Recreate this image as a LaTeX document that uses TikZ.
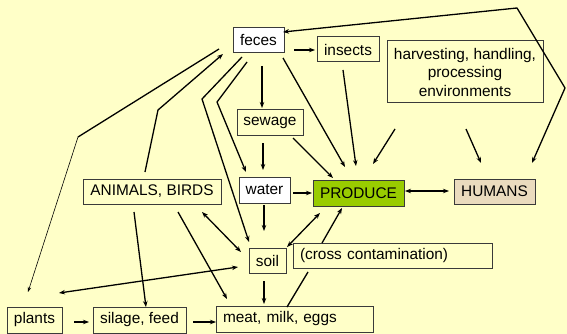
\documentclass[tikz,border=0pt]{standalone}
\usepackage{fontspec}
\setmainfont{Liberation Sans}
\usetikzlibrary{arrows.meta,calc}
\definecolor{bg}{HTML}{FFFFC8}
\definecolor{prodgreen}{HTML}{99CC00}
\definecolor{humtan}{HTML}{EADBBE}
\definecolor{boxline}{HTML}{3A3A3A}
\begin{document}
\begin{tikzpicture}[x=1pt,y=-1pt,
  box/.style={draw=boxline, line width=1pt, rectangle, inner sep=0pt,
    font=\fontsize{15.4}{18.5}\selectfont, align=center},
  lbox/.style={box, inner xsep=7pt, align=left},
  conn/.style={line width=1.3pt, line join=round, arrows={-Stealth[length=6pt,width=4.5pt]}},
  dconn/.style={line width=1.3pt, line join=round, arrows={Stealth[length=6pt,width=4.5pt]-Stealth[length=6pt,width=4.5pt]}},
  plain/.style={line width=1.3pt},
  thinconn/.style={line width=0.6pt, arrows={-Stealth[length=5pt,width=3.5pt]}}
]
\fill[bg] (0,0) rectangle (567,334);
\useasboundingbox (0,0) rectangle (567,334);

% nodes
\node[box, fill=white, minimum width=51pt, minimum height=25pt] (feces) at (258.5,40.5) {feces};
\node[box, minimum width=62pt, minimum height=25pt] (insects) at (348,49.5) {insects};
\node[box, minimum width=156pt, minimum height=62pt] (harv) at (465,72) {harvesting, handling,\\processing\\environments};
\node[box, minimum width=66pt, minimum height=25pt] (sewage) at (270,122.5) {sewage};
\node[box, fill=white, minimum width=51pt, minimum height=26pt] (water) at (264.5,190) {water};
\node[box, fill=prodgreen, minimum width=91pt, minimum height=26pt] (produce) at (358.5,193) {PRODUCE};
\node[box, fill=humtan, minimum width=81pt, minimum height=25pt] (humans) at (494.5,191.5) {HUMANS};
\node[box, minimum width=138pt, minimum height=25pt] (animals) at (152,191.5) {ANIMALS, BIRDS};
\node[box, minimum width=37pt, minimum height=25pt] (soil) at (267.5,260.5) {soil};
\node[lbox, text width=185pt, minimum height=25pt] (cross) at (392.5,255.5) {(cross contamination)};
\node[box, minimum width=55pt, minimum height=26pt] (plants) at (34.5,320) {plants};
\node[box, minimum width=93pt, minimum height=26pt] (silage) at (139.5,320) {silage, feed};
\node[lbox, text width=143pt, minimum height=26pt] (meat) at (294.5,319) {meat, milk, eggs};

% bend points
\coordinate (k1) at (517,8);
\coordinate (k2) at (565,88);
\coordinate (k3) at (78,137);
\coordinate (k4) at (158,110);
\coordinate (k5) at (202,99);
\coordinate (k6) at (217,102);

% connectors
\draw[dconn] ($(feces.center)+(24.5,-8.5)$) -- (k1) -- (k2) -- ($(humans.center)+(37.5,-28.5)$);
\draw[plain] ($(feces.center)+(-39.5,8.5)$) -- (k3);
\draw[thinconn] (k3) -- ($(plants.center)+(-6.5,-28)$);
\draw[conn] ($(animals.center)+(-7,-19.5)$) -- (k4) -- ($(feces.center)+(-35.5,13.5)$);
\draw[conn] ($(feces.center)+(-16.5,16.5)$) -- (k5) -- ($(soil.center)+(-18.5,-18.5)$);
\draw[conn] ($(feces.center)+(-11.5,21.5)$) -- (k6) -- ($(water.center)+(-18.5,-18)$);
\draw[conn] ($(feces.center)+(3.5,25.5)$) -- ($(sewage.center)+(-8,-14.5)$);
\draw[conn] ($(feces.center)+(35.5,9.5)$) -- ($(insects.center)+(-33,0.5)$);
\draw[conn] ($(feces.center)+(24.5,17.5)$) -- ($(produce.center)+(-13.5,-26)$);
\draw[conn] ($(insects.center)+(-5,20.5)$) -- ($(produce.center)+(-2.5,-27)$);
\draw[conn] ($(harv.center)+(-70,57)$) -- ($(produce.center)+(14.5,-29)$);
\draw[conn] ($(harv.center)+(1,57)$) -- ($(humans.center)+(-13.5,-28.5)$);
\draw[conn] ($(sewage.center)+(23,15.5)$) -- ($(produce.center)+(-25.5,-15)$);
\draw[conn] ($(sewage.center)+(-7,20.5)$) -- ($(water.center)+(-1.5,-20)$);
\draw[conn] ($(water.center)+(28.5,3)$) -- ($(produce.center)+(-46.5,0)$);
\draw[conn] ($(water.center)+(-0.5,15)$) -- ($(soil.center)+(-3.5,-29.5)$);
\draw[dconn] ($(produce.center)+(46.5,-2)$) -- ($(humans.center)+(-45.5,-0.5)$);
\draw[dconn] ($(soil.center)+(19.5,-13.5)$) -- ($(produce.center)+(-38.5,20)$);
\draw[conn] ($(cross.center)+(-70.5,-12.5)$) -- ($(produce.center)+(-16.5,15)$);
\draw[plain] ($(cross.center)+(-84.5,16.5)$) -- ($(meat.center)+(-7.5,-12)$);
\draw[dconn] ($(animals.center)+(50,20.5)$) -- ($(soil.center)+(-26.5,-8.5)$);
\draw[conn] ($(animals.center)+(26,20.5)$) -- ($(meat.center)+(-67.5,-20)$);
\draw[conn] ($(animals.center)+(-18,20.5)$) -- ($(silage.center)+(6.5,-13)$);
\draw[dconn] ($(soil.center)+(-29.5,6.5)$) -- ($(plants.center)+(24.5,-27)$);
\draw[conn] ($(soil.center)+(-3.5,20.5)$) -- ($(meat.center)+(-30.5,-15)$);
\draw[conn] ($(plants.center)+(39.5,2)$) -- ($(silage.center)+(-50.5,2)$);
\draw[conn] ($(silage.center)+(53.5,2)$) -- ($(meat.center)+(-78.5,3)$);
\end{tikzpicture}
\end{document}
